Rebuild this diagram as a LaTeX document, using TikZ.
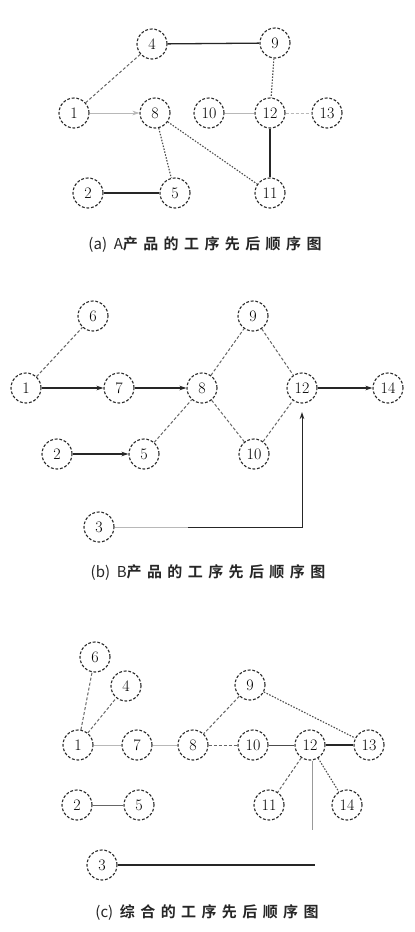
\documentclass[tikz,border=0pt]{standalone}
\usepackage{fontspec}
\newfontfamily\cjk{Noto Sans CJK SC Bold}[LetterSpace=36]
\newfontfamily\cjklat{Noto Sans CJK SC}
\usetikzlibrary{arrows.meta}
\begin{document}
\begin{tikzpicture}[x=1pt,y=-1pt,
 nd/.style={circle,draw=black!85,dash pattern=on 2.8pt off 1.8pt,line width=1.1pt,minimum size=30pt,inner sep=0pt,font=\fontsize{16}{16}\selectfont},
 sl/.style={line width=1.3pt,black!85},
 dl/.style={line width=1pt,black!60,dash pattern=on 3pt off 2pt},
 dt/.style={line width=1.1pt,black!70,dash pattern=on 1.5pt off 1.5pt},
 fl/.style={line width=0.8pt,black!28},
 ar/.style={-{Stealth[length=7pt,width=4.5pt]}},
 captxt/.style={font=\fontsize{15}{15}\selectfont,text=black!85}]
\useasboundingbox[fill=white] (0,0) rectangle (415,932);
% ---------- (a)
\node[nd] (a4) at (152,44) {4};
\node[nd] (a9) at (275,43) {9};
\node[nd] (a1) at (74,113) {1};
\node[nd] (a8) at (155,113) {8};
\node[nd] (a10) at (209,113) {10};
\node[nd] (a12) at (270,113) {12};
\node[nd] (a13) at (327,113) {13};
\node[nd] (a2) at (88,193) {2};
\node[nd] (a5) at (175,193) {5};
\node[nd] (a11) at (270,193) {11};
\draw[sl] (a4) -- (a9);
\draw[dl] (a1) -- (a4);
\draw[fl,ar] (a1) -- (a8);
\draw[dt] (a9) -- (a12);
\draw[fl] (a10) -- (a12);
\draw[fl,dash pattern=on 3pt off 2pt] (a12) -- (a13);
\draw[dt] (a8) -- (a5);
\draw[dt] (a8) -- (a11);
\draw[sl] (a12) -- (a11);
\draw[sl] (a2) -- (a5);
\node[captxt] (capa) at (205,245) {{\cjklat (a)\ \ A}{\cjk 产品的工序先后顺序图}};
% ---------- (b)
\node[nd] (b6) at (93,316) {6};
\node[nd] (b9) at (253,316) {9};
\node[nd] (b1) at (26,388) {1};
\node[nd] (b7) at (119,388) {7};
\node[nd] (b8) at (202,388) {8};
\node[nd] (b12) at (302,388) {12};
\node[nd] (b14) at (388,388) {14};
\node[nd] (b2) at (57,454) {2};
\node[nd] (b5) at (144,454) {5};
\node[nd] (b10) at (254,454) {10};
\node[nd] (b3) at (99,527) {3};
\draw[dl] (b1) -- (b6);
\draw[sl,ar] (b1) -- (b7);
\draw[sl,ar] (b7) -- (b8);
\draw[dl] (b8) -- (b9);
\draw[dl] (b9) -- (b12);
\draw[dl] (b8) -- (b10);
\draw[dl] (b10) -- (b12);
\draw[dl] (b5) -- (b8);
\draw[sl,ar] (b2) -- (b5);
\draw[sl,ar] (b12) -- (b14);
\coordinate (b3m) at (188,527);
\coordinate (b3c) at (302,527);
\coordinate (b12t) at (302,412);
\draw[fl] (b3) -- (b3m);
\draw[sl,line width=1pt,ar] (b3m) -- (b3c) -- (b12t);
\node[captxt] (capb) at (208,573) {{\cjklat (b)\ \ B}{\cjk 产品的工序先后顺序图}};
% ---------- (c)
\node[nd] (c6) at (95,657) {6};
\node[nd] (c4) at (126,686) {4};
\node[nd] (c9) at (250,685) {9};
\node[nd] (c1) at (78,745) {1};
\node[nd] (c7) at (137,745) {7};
\node[nd] (c8) at (193,745) {8};
\node[nd] (c10) at (253,745) {10};
\node[nd] (c12) at (310,745) {12};
\node[nd] (c13) at (369,745) {13};
\node[nd] (c2) at (77,805) {2};
\node[nd] (c5) at (139,805) {5};
\node[nd] (c11) at (269,805) {11};
\node[nd] (c14) at (347,805) {14};
\node[nd] (c3) at (102,865) {3};
\draw[dl] (c1) -- (c6);
\draw[dl] (c1) -- (c4);
\draw[fl] (c1) -- (c7);
\draw[fl] (c7) -- (c8);
\draw[dl] (c8) -- (c10);
\draw[sl,line width=1pt,black!70] (c10) -- (c12);
\draw[sl] (c12) -- (c13);
\draw[dl] (c9) -- (c8);
\draw[dt] (c9) -- (c13);
\draw[dl] (c12) -- (c11);
\draw[dt] (c12) -- (c14);
\draw[sl,line width=0.9pt,black!60] (c2) -- (c5);
\coordinate (c12d) at (312,830);
\draw[fl,line width=0.9pt,black!40] (c12.south -| c12d) -- (c12d);
\coordinate (c3e) at (315,865);
\draw[sl] (c3) -- (c3e);
\node[captxt] (capc) at (207,913) {{\cjklat (c)\ \ }{\cjk 综合的工序先后顺序图}};
\end{tikzpicture}
\end{document}
